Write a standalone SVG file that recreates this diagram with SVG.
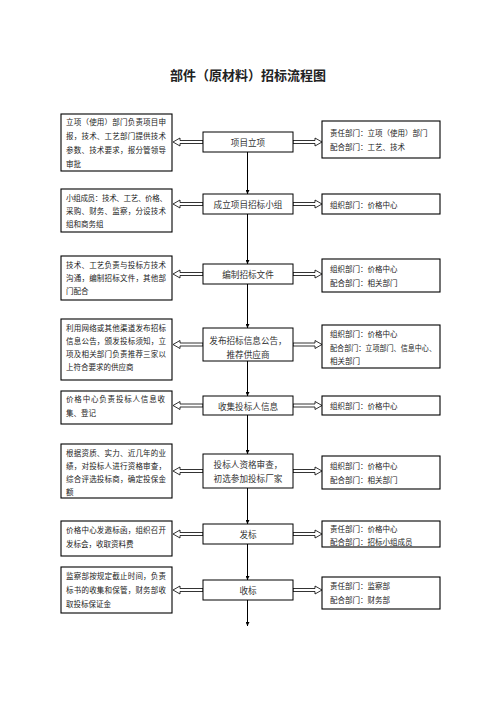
<svg xmlns="http://www.w3.org/2000/svg" width="496" height="702" viewBox="0 0 496 702">
<style>
text{font-family:"Noto Sans CJK SC","Noto Sans CJK JP",sans-serif;fill:#222}
.t{font-size:13px;font-weight:bold;text-anchor:middle}
.s{font-size:7.5px;dominant-baseline:central}
.c{font-size:8.6px;text-anchor:middle;dominant-baseline:central;fill:#333}
.b{fill:#fff;stroke:#000;stroke-width:1.1}
.m{fill:#fff;stroke:#000;stroke-width:1}
.v{stroke:#000;stroke-width:1;fill:none}
.a{fill:#fff;stroke:#000;stroke-width:0.8}
</style>
<defs>
<marker id="ah" markerUnits="userSpaceOnUse" markerWidth="4" markerHeight="4" refX="4" refY="2" orient="auto">
<path d="M0,0 L4,2 L0,4 z" fill="#000"/>
</marker>
<path id="la" d="M0,0 L7,-4 L7,-1.5 L30,-1.5 L30,1.5 L7,1.5 L7,4 Z"/>
<path id="ra" d="M0,0 L-7,-4 L-7,-1.5 L-29,-1.5 L-29,1.5 L-7,1.5 L-7,4 Z"/>
</defs>
<rect width="496" height="702" fill="#fff"/>
<text class="t" x="248" y="80">部件（原材料）招标流程图</text>

<g id="connectors">
<line class="v" x1="247.5" y1="152" x2="247.5" y2="194" marker-end="url(#ah)"/>
<line class="v" x1="247.5" y1="214" x2="247.5" y2="264" marker-end="url(#ah)"/>
<line class="v" x1="247.5" y1="284" x2="247.5" y2="328" marker-end="url(#ah)"/>
<line class="v" x1="247.5" y1="361" x2="247.5" y2="396" marker-end="url(#ah)"/>
<line class="v" x1="247.5" y1="415" x2="247.5" y2="454" marker-end="url(#ah)"/>
<line class="v" x1="247.5" y1="488" x2="247.5" y2="524" marker-end="url(#ah)"/>
<line class="v" x1="247.5" y1="544" x2="247.5" y2="580" marker-end="url(#ah)"/>
<line class="v" x1="247.5" y1="600" x2="247.5" y2="626" marker-end="url(#ah)"/>
<use href="#la" class="a" x="173" y="142"/><use href="#ra" class="a" x="322" y="142"/>
<use href="#la" class="a" x="173" y="204"/><use href="#ra" class="a" x="322" y="204"/>
<use href="#la" class="a" x="173" y="274"/><use href="#ra" class="a" x="322" y="274"/>
<use href="#la" class="a" x="173" y="344.5"/><use href="#ra" class="a" x="322" y="344.5"/>
<use href="#la" class="a" x="173" y="405.5"/><use href="#ra" class="a" x="322" y="405.5"/>
<use href="#la" class="a" x="173" y="471"/><use href="#ra" class="a" x="322" y="471"/>
<use href="#la" class="a" x="173" y="534"/><use href="#ra" class="a" x="322" y="534"/>
<use href="#la" class="a" x="173" y="590"/><use href="#ra" class="a" x="322" y="590"/>
</g>

<!-- Row 1 -->
<g id="n1">
<rect class="m" x="203" y="132" width="90" height="20"/>
<text class="c" x="248" y="142">项目立项</text>
</g>
<g id="l1">
<rect class="b" x="61" y="114" width="111" height="57"/>
<text class="s" x="66" y="121" textLength="100" lengthAdjust="spacing">立项（使用）部门负责项目申</text>
<text class="s" x="66" y="135" textLength="100" lengthAdjust="spacing">报，技术、工艺部门提供技术</text>
<text class="s" x="66" y="149" textLength="100" lengthAdjust="spacing">参数、技术要求，报分管领导</text>
<text class="s" x="66" y="163">审批</text>
</g>
<g id="r1">
<rect class="b" x="322" y="121" width="118" height="37"/>
<text class="s" x="330" y="132">责任部门：立项（使用）部门</text>
<text class="s" x="330" y="146">配合部门：工艺、技术</text>
</g>

<!-- Row 2 -->
<g id="n2">
<rect class="m" x="203" y="194" width="90" height="20"/>
<text class="c" x="248" y="204">成立项目招标小组</text>
</g>
<g id="l2">
<rect class="b" x="61" y="189" width="111" height="43"/>
<text class="s" x="66" y="197" textLength="101" lengthAdjust="spacing">小组成员：技术、工艺、价格、</text>
<text class="s" x="66" y="210" textLength="100" lengthAdjust="spacing">采购、财务、监察，分设技术</text>
<text class="s" x="66" y="223">组和商务组</text>
</g>
<g id="r2">
<rect class="b" x="322" y="194" width="118" height="20"/>
<text class="s" x="330" y="204">组织部门：价格中心</text>
</g>

<!-- Row 3 -->
<g id="n3">
<rect class="m" x="203" y="264" width="90" height="20"/>
<text class="c" x="248" y="274">编制招标文件</text>
</g>
<g id="l3">
<rect class="b" x="61" y="256" width="111" height="44"/>
<text class="s" x="66" y="264" textLength="100" lengthAdjust="spacing">技术、工艺负责与投标方技术</text>
<text class="s" x="66" y="277" textLength="100" lengthAdjust="spacing">沟通，编制招标文件，其他部</text>
<text class="s" x="66" y="290">门配合</text>
</g>
<g id="r3">
<rect class="b" x="322" y="259" width="118" height="33"/>
<text class="s" x="330" y="268">组织部门：价格中心</text>
<text class="s" x="330" y="282">配合部门：相关部门</text>
</g>

<!-- Row 4 -->
<g id="n4">
<rect class="m" x="203" y="328" width="90" height="33"/>
<text class="c" x="248" y="340">发布招标信息公告，</text>
<text class="c" x="248" y="354">推荐供应商</text>
</g>
<g id="l4">
<rect class="b" x="61" y="319" width="111" height="61"/>
<text class="s" x="66" y="327" textLength="100" lengthAdjust="spacing">利用网络或其他渠道发布招标</text>
<text class="s" x="66" y="340" textLength="100" lengthAdjust="spacing">信息公告，颁发投标须知，立</text>
<text class="s" x="66" y="353" textLength="100" lengthAdjust="spacing">项及相关部门负责推荐三家以</text>
<text class="s" x="66" y="366">上符合要求的供应商</text>
</g>
<g id="r4">
<rect class="b" x="322" y="325" width="118" height="43"/>
<text class="s" x="330" y="333">组织部门：价格中心</text>
<text class="s" x="330" y="347" textLength="106" lengthAdjust="spacingAndGlyphs">配合部门：立项部门、信息中心、</text>
<text class="s" x="330" y="360">相关部门</text>
</g>

<!-- Row 5 -->
<g id="n5">
<rect class="m" x="203" y="396" width="90" height="19"/>
<text class="c" x="248" y="405.5">收集投标人信息</text>
</g>
<g id="l5">
<rect class="b" x="61" y="391" width="111" height="33"/>
<text class="s" x="66" y="398" textLength="99" lengthAdjust="spacing">价格中心负责投标人信息收</text>
<text class="s" x="66" y="412">集、登记</text>
</g>
<g id="r5">
<rect class="b" x="322" y="396" width="118" height="19"/>
<text class="s" x="330" y="405.5">组织部门：价格中心</text>
</g>

<!-- Row 6 -->
<g id="n6">
<rect class="m" x="203" y="454" width="90" height="34"/>
<text class="c" x="248" y="464">投标人资格审查，</text>
<text class="c" x="248" y="478">初选参加投标厂家</text>
</g>
<g id="l6">
<rect class="b" x="61" y="444" width="111" height="54"/>
<text class="s" x="66" y="452" textLength="100" lengthAdjust="spacing">根据资质、实力、近几年的业</text>
<text class="s" x="66" y="465" textLength="100" lengthAdjust="spacing">绩，对投标人进行资格审查，</text>
<text class="s" x="66" y="478" textLength="100" lengthAdjust="spacing">综合评选投标商，确定投保金</text>
<text class="s" x="66" y="491">额</text>
</g>
<g id="r6">
<rect class="b" x="322" y="456" width="118" height="33"/>
<text class="s" x="330" y="465">组织部门：价格中心</text>
<text class="s" x="330" y="479">配合部门：相关部门</text>
</g>

<!-- Row 7 -->
<g id="n7">
<rect class="m" x="203" y="524" width="90" height="20"/>
<text class="c" x="248" y="534">发标</text>
</g>
<g id="l7">
<rect class="b" x="61" y="521" width="111" height="35"/>
<text class="s" x="66" y="529" textLength="100" lengthAdjust="spacing">价格中心发邀标函，组织召开</text>
<text class="s" x="66" y="543">发标会，收取资料费</text>
</g>
<g id="r7">
<rect class="b" x="322" y="521" width="118" height="26"/>
<text class="s" x="330" y="528">责任部门：价格中心</text>
<text class="s" x="330" y="541">配合部门：招标小组成员</text>
</g>

<!-- Row 8 -->
<g id="n8">
<rect class="m" x="203" y="580" width="90" height="20"/>
<text class="c" x="248" y="590">收标</text>
</g>
<g id="l8">
<rect class="b" x="61" y="567" width="111" height="46"/>
<text class="s" x="66" y="575" textLength="100" lengthAdjust="spacing">监察部按规定截止时间，负责</text>
<text class="s" x="66" y="589" textLength="100" lengthAdjust="spacing">标书的收集和保管，财务部收</text>
<text class="s" x="66" y="603">取投标保证金</text>
</g>
<g id="r8">
<rect class="b" x="322" y="577" width="118" height="32"/>
<text class="s" x="330" y="585">责任部门：监察部</text>
<text class="s" x="330" y="599">配合部门：财务部</text>
</g>
</svg>
